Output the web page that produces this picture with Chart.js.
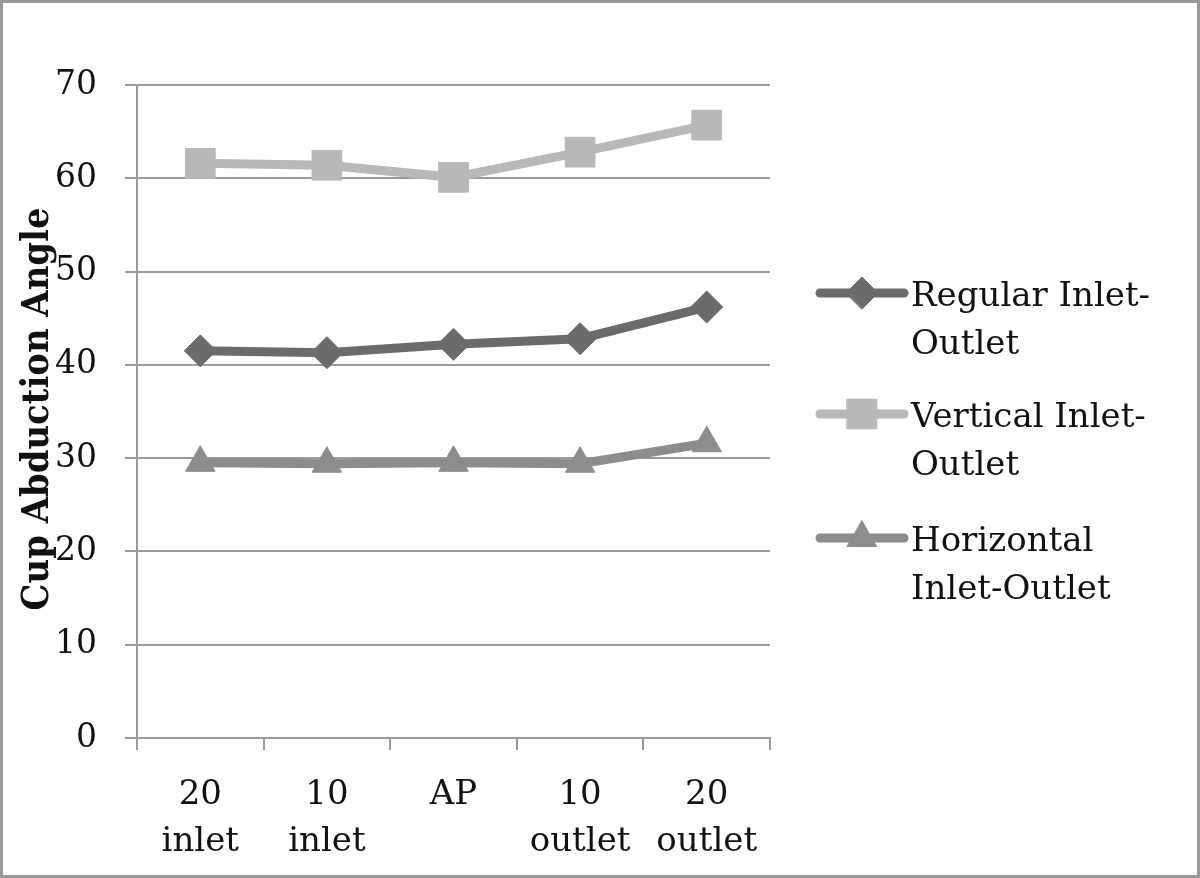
<!DOCTYPE html>
<html>
<head>
<meta charset="utf-8">
<script src="https://cdn.jsdelivr.net/npm/chart.js@4/dist/chart.umd.min.js"></script>
<style>
  body { margin: 0; background: #fff; }
  #wrap { width: 1200px; height: 878px; }
</style>
</head>
<body>
<div id="wrap"><canvas id="grafico" width="1200" height="878"></canvas></div>
<script>
// datos
const categorias = [["20", "inlet"], ["10", "inlet"], ["AP"], ["10", "outlet"], ["20", "outlet"]];
const regular = [41.5, 41.3, 42.2, 42.8, 46.2];
const vertical = [61.6, 61.4, 60.1, 62.8, 65.7];
const horizontal = [29.5, 29.4, 29.5, 29.4, 31.6];
const etiquetasLeyenda = [["Regular Inlet-", "Outlet"], ["Vertical Inlet-", "Outlet"], ["Horizontal", "Inlet-Outlet"]];
const tituloY = "Cup Abduction Angle";

Chart.defaults.font.family = '"DejaVu Serif", serif';
Chart.defaults.color = "#111";

const gris = "#9a9a9a";

// marco, titulo del eje y leyenda dibujados a mano
const extras = {
    id: "extras",
    beforeDraw(chart) {
        const ctx = chart.ctx;
        ctx.save();
        ctx.fillStyle = "#fff";
        ctx.fillRect(0, 0, chart.width, chart.height);
        ctx.restore();
    },
    afterDraw(chart) {
        const ctx = chart.ctx;
        ctx.save();
        ctx.strokeStyle = "#999";
        ctx.lineWidth = 3;
        ctx.strokeRect(1.5, 1.5, chart.width - 3, chart.height - 3);

        // titulo vertical
        ctx.fillStyle = "#111";
        ctx.font = 'bold 38px "DejaVu Serif", serif';
        const ancho = ctx.measureText(tituloY).width;
        ctx.translate(48, 409);
        ctx.rotate(-Math.PI / 2);
        ctx.scale(403 / ancho, 1);
        ctx.textAlign = "center";
        ctx.textBaseline = "alphabetic";
        ctx.fillText(tituloY, 0, 0);
        ctx.restore();

        // leyenda
        const filas = [293, 414, 538];
        chart.data.datasets.forEach((ds, i) => {
            const y = filas[i];
            ctx.save();
            ctx.strokeStyle = ds.borderColor;
            ctx.lineWidth = 9;
            ctx.lineCap = "round";
            ctx.beginPath();
            ctx.moveTo(820, y);
            ctx.lineTo(904, y);
            ctx.stroke();
            ctx.fillStyle = ds.pointBackgroundColor;
            ctx.strokeStyle = ds.pointBackgroundColor;
            ctx.lineWidth = 1;
            Chart.helpers.drawPoint(ctx, { pointStyle: ds.pointStyle, radius: ds.pointRadius, rotation: 0, borderWidth: 1 }, 862, y);
            ctx.fillStyle = "#111";
            ctx.font = '34px "DejaVu Serif", serif';
            ctx.textAlign = "left";
            ctx.textBaseline = "alphabetic";
            etiquetasLeyenda[i].forEach((t, j) => ctx.fillText(t, 911, y + 13 + j * 48));
            ctx.restore();
        });
    }
};

function serie(label, data, color, estilo, radio) {
    return {
        label: label,
        data: data,
        borderColor: color,
        backgroundColor: color,
        pointBackgroundColor: color,
        pointBorderColor: color,
        pointBorderWidth: 1,
        borderWidth: 9,
        pointStyle: estilo,
        pointRadius: radio,
        tension: 0,
        fill: false
    };
}

new Chart(document.getElementById("grafico").getContext("2d"), {
    type: "line",
    data: {
        labels: categorias,
        datasets: [
            serie("Regular Inlet-Outlet", regular, "#6b6b6b", "rectRot", 16),
            serie("Vertical Inlet-Outlet", vertical, "#b8b8b8", "rect", 21),
            serie("Horizontal Inlet-Outlet", horizontal, "#8c8c8c", "triangle", 17)
        ]
    },
    options: {
        responsive: false,
        animation: false,
        layout: { padding: { left: 0, top: 85, right: 430, bottom: 0 } },
        plugins: {
            legend: { display: false },
            tooltip: { enabled: false }
        },
        scales: {
            x: {
                offset: true,
                grid: { drawOnChartArea: false, drawTicks: true, tickLength: 12, color: gris, lineWidth: 2, offset: true },
                border: { color: gris, width: 2 },
                ticks: { padding: 21, maxRotation: 0, autoSkip: false, font: { size: 34, lineHeight: 1.4 }, color: "#111" },
                afterFit(scale) { scale.height = 140; }
            },
            y: {
                min: 0,
                max: 70,
                ticks: { stepSize: 10, padding: 28, font: { size: 33 }, color: "#111" },
                grid: { color: gris, lineWidth: 2, tickLength: 12 },
                border: { color: gris, width: 2 },
                afterFit(scale) { scale.width = 137; }
            }
        }
    },
    plugins: [extras]
});
</script>
</body>
</html>
